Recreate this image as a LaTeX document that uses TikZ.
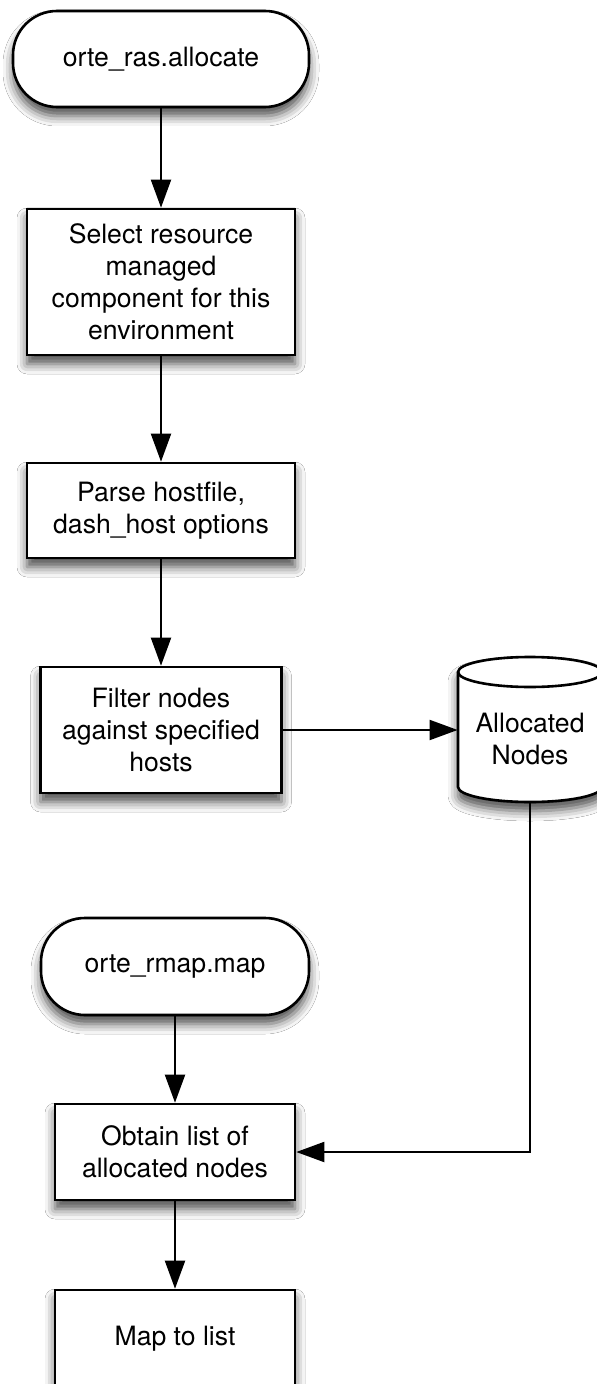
\documentclass[tikz,border=0pt]{standalone}
\usepackage{fontspec}
\setmainfont{TeX Gyre Heros}
\usetikzlibrary{arrows.meta,shadows.blur}

\begin{document}
\begin{tikzpicture}[x=0.5pt,y=0.5pt]

      \useasboundingbox[fill=white] (0,0) rectangle (597,-1384);

      \begin{scope}[every node/.style={draw,line width=1.3pt,fill=white,align=center,
          inner sep=0pt,font=\fontsize{13.3}{16}\selectfont,
          blur shadow={shadow xshift=0pt,shadow yshift=-4.5pt,shadow blur radius=5pt,shadow opacity=70}}]
        \node[rounded corners=22pt,minimum width=148pt,minimum height=48pt] (ras) at (161,-59) {orte\_ras.allocate};
        \node[minimum width=134pt,minimum height=73pt] (select) at (161,-282) {Select resource\\managed\\component for this\\environment};
        \node[minimum width=134pt,minimum height=47.5pt] (parse) at (161,-510.5) {Parse hostfile,\\dash\_host options};
        \node[minimum width=120.5pt,minimum height=63pt] (filter) at (161,-730) {Filter nodes\\against specified\\hosts};
        \node[rounded corners=22pt,minimum width=134pt,minimum height=48.5pt] (rmap) at (175,-966.5) {orte\_rmap.map};
        \node[minimum width=120pt,minimum height=48pt] (obtain) at (175,-1152) {Obtain list of\\allocated nodes};
        \node[minimum width=120pt,minimum height=49pt] (map) at (175,-1339) {Map to list};
      \end{scope}

      % cylinder
      \path[draw,line width=1.3pt,fill=white,
          blur shadow={shadow xshift=0pt,shadow yshift=-4.5pt,shadow blur radius=5pt,shadow opacity=70}]
        (458,-672) -- (458,-787) arc[start angle=180,end angle=360,x radius=36pt,y radius=7.5pt]
        -- (602,-672) arc[start angle=0,end angle=180,x radius=36pt,y radius=7.5pt] -- cycle;
      \draw[line width=1.3pt] (458,-672) arc[start angle=180,end angle=360,x radius=36pt,y radius=7.5pt];
      \node[minimum width=72pt,minimum height=63pt,inner sep=0pt,align=center,
          font=\fontsize{13.3}{16}\selectfont] (alloc) at (530,-739) {Allocated\\Nodes};

      \begin{scope}[every edge/.style={draw=black,line width=1pt,-{Triangle[length=14pt,width=10pt,fill=black]}}]
        \path (ras)    edge (select);
        \path (select) edge (parse);
        \path (parse)  edge (filter);
        \path (filter.east) edge (filter.east -| alloc.west);
        \path (alloc)  edge[to path={|- (\tikztotarget)}] (obtain);
        \path (rmap)   edge (obtain);
        \path (obtain) edge (map);
      \end{scope}

    \end{tikzpicture}
\end{document}
